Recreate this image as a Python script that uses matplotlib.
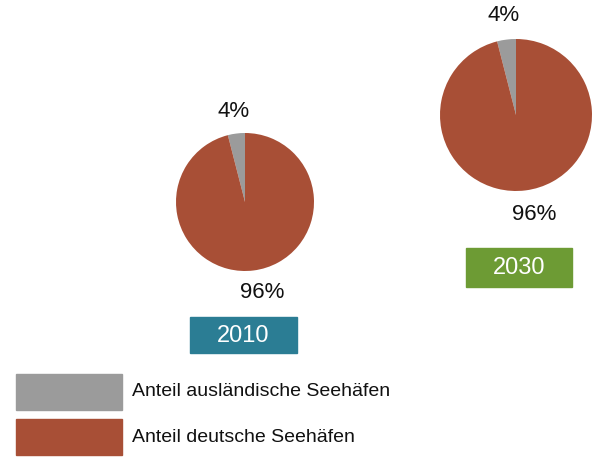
import matplotlib.pyplot as plt
from matplotlib.patches import Rectangle

plt.rcParams['font.family'] = ['Liberation Sans', 'DejaVu Sans']

years = ["2010", "2030"]
shares = [[4, 96], [4, 96]]
categories = ["Anteil ausländische Seehäfen", "Anteil deutsche Seehäfen"]
colors = ["#9b9b9b", "#a84f36"]
year_colors = ["#2b7d94", "#6d9b34"]

W, H = 592, 457
fig = plt.figure(figsize=(W / 100, H / 100), dpi=100)

# pie placement in pixels: (center x, center y from top, radius)
pies = [(245, 202, 69), (516, 115, 76)]
boxes = [(190, 317, 107, 36), (466, 248, 106, 39)]

bg = fig.add_axes([0, 0, 1, 1])
bg.set_xlim(0, W)
bg.set_ylim(H, 0)
bg.axis('off')

for (cx, cy, r), vals in zip(pies, shares):
    ax = fig.add_axes([(cx - r) / W, 1 - (cy + r) / H, 2 * r / W, 2 * r / H])
    wedges, texts, pcts = ax.pie(vals, colors=colors, startangle=90, counterclock=True,
                                 autopct='%.0f%%', pctdistance=1.32,
                                 textprops={'fontsize': 16, 'color': '#111111'},
                                 wedgeprops={'linewidth': 0})
    # nudge the lower label a little to the right like the original
    x, y = pcts[1].get_position()
    pcts[1].set_position((x + 0.08, y))
    ax.set_aspect('equal')
    ax.set_xlim(-1, 1)
    ax.set_ylim(-1, 1)

for (x, y, w, h), yr, c in zip(boxes, years, year_colors):
    bg.add_patch(Rectangle((x, y), w, h, color=c))
    bg.text(x + w / 2, y + h / 2 + 1, yr, color='white', fontsize=17,
            ha='center', va='center')

for i, (cat, c) in enumerate(zip(categories, colors)):
    y0 = 374 + i * 45
    bg.add_patch(Rectangle((16, y0), 106, 36, color=c))
    bg.text(132, y0 + 18, cat, fontsize=14, ha='left', va='center', color='#111111')

fig.savefig('out.png', dpi=100)
